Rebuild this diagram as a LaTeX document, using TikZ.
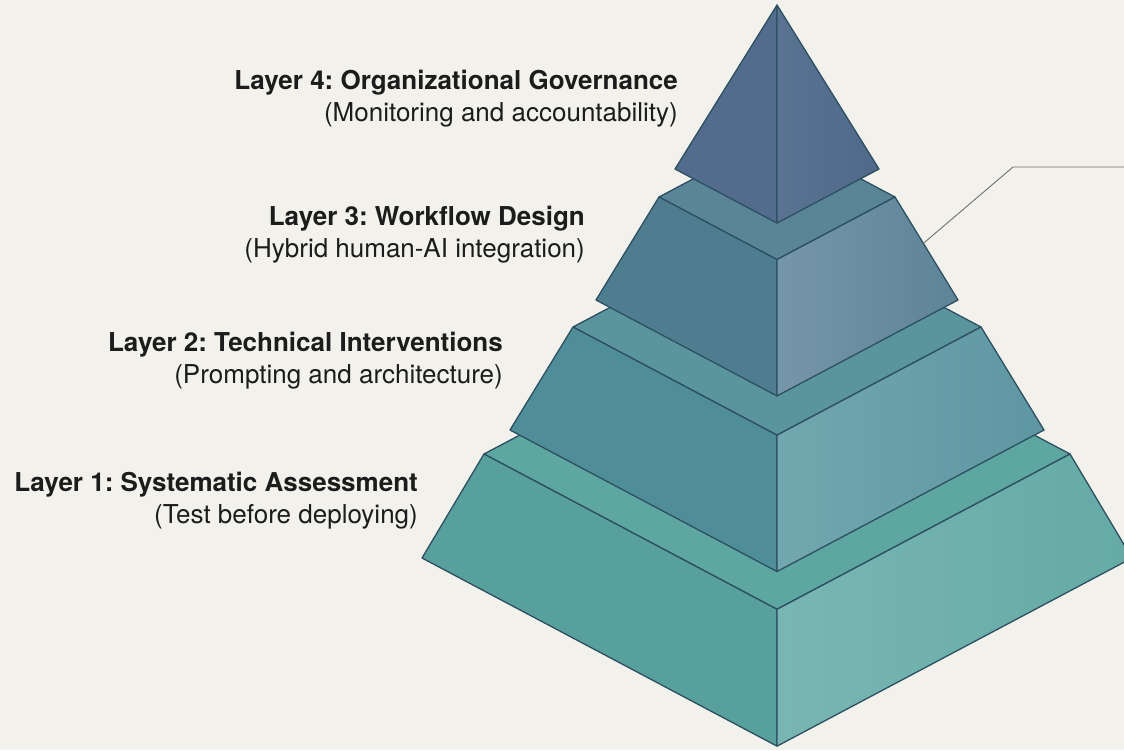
\documentclass[tikz,border=0pt]{standalone}
\usepackage{fontspec}
\setmainfont{TeX Gyre Heros}
\usepackage{tikz}
\usetikzlibrary{calc}
\definecolor{paper}{HTML}{F2F1EC}
\definecolor{edge}{HTML}{2C5061}
\definecolor{leadgray}{HTML}{707070}
\definecolor{ink}{HTML}{1C1C1C}
% tier colours: top ledge, left face, right face (light / dark)
\definecolor{oneT}{HTML}{5EA6A0}
\definecolor{oneL}{HTML}{58A09C}
\definecolor{oneRa}{HTML}{79B6B3}
\definecolor{oneRb}{HTML}{64AAA5}
\definecolor{twoT}{HTML}{5A959D}
\definecolor{twoL}{HTML}{4F8D98}
\definecolor{twoRa}{HTML}{72A7AF}
\definecolor{twoRb}{HTML}{5E96A2}
\definecolor{thrT}{HTML}{5A8597}
\definecolor{thrL}{HTML}{4F7D90}
\definecolor{thrRa}{HTML}{7596A8}
\definecolor{thrRb}{HTML}{5E8497}
\definecolor{capL}{HTML}{536B8C}
\definecolor{capRa}{HTML}{5A7393}
\definecolor{capRb}{HTML}{50698A}

\newcommand{\pyrmid}{777}
\newcommand{\pyrslope}{0.53}
% one frustum: name, top y, top half width, base y, base half width,
% ledge colour, left colour, right colours
\newcommand{\pyrtier}[9]{%
  \coordinate (#1tl) at (\pyrmid-#3,#2);
  \coordinate (#1tf) at (\pyrmid,#2+\pyrslope*#3);
  \coordinate (#1tr) at (\pyrmid+#3,#2);
  \coordinate (#1tb) at (\pyrmid,#2-\pyrslope*#3);
  \coordinate (#1bl) at (\pyrmid-#5,#4);
  \coordinate (#1bf) at (\pyrmid,#4+\pyrslope*#5);
  \coordinate (#1br) at (\pyrmid+#5,#4);
  \filldraw[face, fill=#6] (#1tl) -- (#1tb) -- (#1tr) -- (#1tf) -- cycle;
  \filldraw[face, fill=#7] (#1tl) -- (#1tf) -- (#1bf) -- (#1bl) -- cycle;
  \path[face, draw=edge, left color=#8, right color=#9]
    (#1tf) -- (#1tr) -- (#1br) -- (#1bf) -- cycle;
}

\begin{document}
\begin{tikzpicture}[x=1pt, y=-1pt,
    face/.style={draw=edge, line width=1.3pt, line join=round},
    lab/.style={anchor=east, align=right, inner sep=0pt, text=ink,
                font=\fontsize{26}{32}\selectfont\frenchspacing},
    leader/.style={draw=leadgray, line width=0.9pt},
  ]
  \fill[paper] (0,0) rectangle (1124,750);
  \useasboundingbox (0,0) rectangle (1124,750);
  \clip (0,0) rectangle (1124,750);

  % tiers, bottom first so each one hides the back of the ledge below
  \pyrtier{one}{454}{293}{558}{355}{oneT}{oneL}{oneRa}{oneRb}
  \pyrtier{two}{327}{204}{430}{267}{twoT}{twoL}{twoRa}{twoRb}
  \pyrtier{thr}{197}{118}{300}{181}{thrT}{thrL}{thrRa}{thrRb}

  % capstone
  \coordinate (apex) at (\pyrmid,5);
  \coordinate (capl) at (\pyrmid-102,169);
  \coordinate (capf) at (\pyrmid,169+\pyrslope*102);
  \coordinate (capr) at (\pyrmid+102,169);
  \filldraw[face, fill=capL] (apex) -- (capl) -- (capf) -- cycle;
  \path[face, left color=capRa, right color=capRb] (apex) -- (capf) -- (capr) -- cycle;

  % labels
  \node[lab] (lab4) at (678,99)
    {\textbf{Layer 4: Organizational Governance}\\(Monitoring and accountability)};
  \node[lab] (lab3) at (585,235)
    {\textbf{Layer 3: Workflow Design}\\(Hybrid human-AI integration)};
  \node[lab] (lab2) at (503,361)
    {\textbf{Layer 2: Technical Interventions}\\(Prompting and architecture)};
  \node[lab] (lab1) at (418,501)
    {\textbf{Layer 1: Systematic Assessment}\\(Test before deploying)};

  % leader line off the third tier
  \coordinate (tip) at ($(thrtr)!0.45!(thrbr)$);
  \coordinate (elbow) at (1013,167);
  \coordinate (leadend) at (1124,167);
  \draw[leader] (tip) -- (elbow) -- (leadend);
\end{tikzpicture}
\end{document}
